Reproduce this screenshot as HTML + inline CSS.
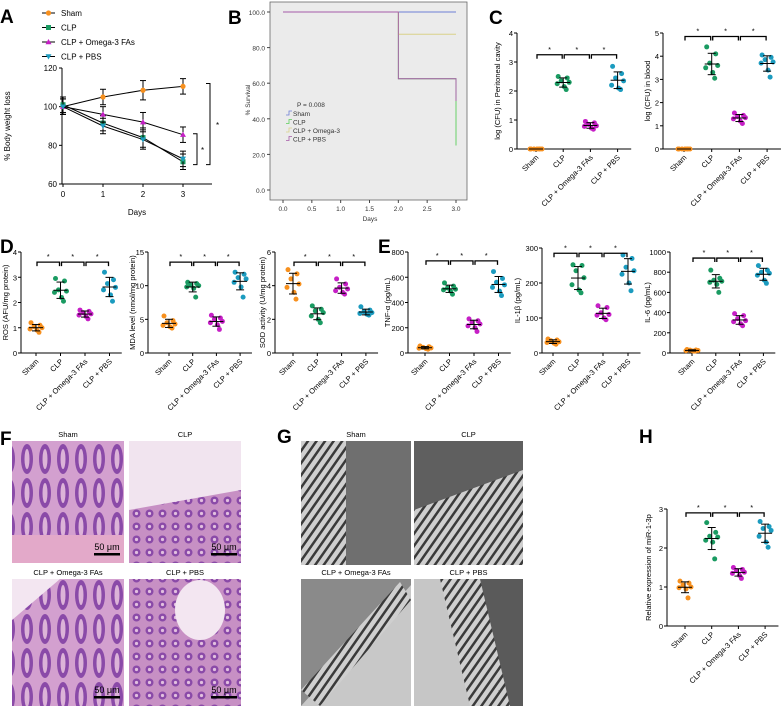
<!DOCTYPE html>
<html><head><meta charset="utf-8"><style>
body{margin:0;background:#fff}
svg{display:block;font-family:"Liberation Sans",Arial,sans-serif}
</style></head><body>
<svg id="fig" width="784" height="707" viewBox="0 0 784 707" xmlns="http://www.w3.org/2000/svg">
<defs>
<pattern id="he" width="18" height="34" patternUnits="userSpaceOnUse"><rect width="18" height="34" fill="#d3a0cf"/><ellipse cx="9" cy="17" rx="6" ry="15" fill="#8a4aa8"/><ellipse cx="9" cy="17" rx="2.5" ry="10" fill="#dcb3d8"/></pattern>
<pattern id="he2" width="13" height="13" patternUnits="userSpaceOnUse"><rect width="13" height="13" fill="#c790c4"/><circle cx="6.5" cy="6.5" r="4" fill="#8a4aa8"/><circle cx="6.5" cy="6.5" r="1.6" fill="#e2c0df"/></pattern>
<pattern id="mv" width="7" height="7" patternUnits="userSpaceOnUse" patternTransform="rotate(35)"><rect width="7" height="7" fill="#cfcfcf"/><rect width="2.5" height="7" fill="#3a3a3a"/></pattern>
</defs>
<g id="root"></g>
</svg>
<script>
// ---- Panel A data ----
const aDays=[0,1,2,3];
const aSham=[100,105,108.5,110.5];
const aCLP=[101,91.5,84,71.5];
const aOmega=[100,96,92,85.5];
const aPBS=[100,90,83,73];
const aErr=[4,4,5,4];
const aTicks=[60,80,100,120];
// ---- Panel B data ----
const bTimes=[0,2,3];
const bSham=[100,100,100];
const bCLP=[100,62.5,25];
const bOmega=[100,87.5,87.5];
const bPBS=[100,62.5,50];
const bYTicks=[0,20,40,60,80,100];
const bXTicks=[0,0.5,1,1.5,2,2.5,3];
// ---- Dot plot data ----
const cats=["Sham","CLP","CLP + Omega-3 FAs","CLP + PBS"];
const c1Sham=[0,0,0,0,0,0,0], c1CLP=[2.5,2.45,2.35,2.3,2.25,2.15,2.05], c1Omega=[0.95,0.9,0.85,0.8,0.78,0.72,0.68], c1PBS=[2.85,2.6,2.45,2.35,2.2,2.1,2.05];
const c2Sham=[0,0,0,0,0,0,0], c2CLP=[4.4,4.1,3.7,3.6,3.5,3.3,3.05], c2Omega=[1.55,1.45,1.4,1.35,1.3,1.2,1.1], c2PBS=[4.05,3.95,3.85,3.75,3.7,3.4,3.1];
const d1Sham=[1.2,1.1,1.05,1.0,0.95,0.9,0.82], d1CLP=[2.95,2.85,2.5,2.45,2.4,2.2,2.05], d1Omega=[1.7,1.65,1.6,1.55,1.5,1.45,1.35], d1PBS=[3.2,2.9,2.75,2.6,2.5,2.3,2.05];
const d2Sham=[5.5,4.8,4.5,4.3,4.1,3.9,3.7], d2CLP=[10.5,10.3,10.1,10,9.8,9.6,8.3], d2Omega=[5.6,5.2,5.0,4.7,4.5,4.2,3.5], d2PBS=[12,11.7,11.2,11,10.5,9.8,8.3];
const d3Sham=[4.95,4.7,4.4,4.1,3.9,3.6,3.2], d3CLP=[2.8,2.6,2.5,2.4,2.2,2.0,1.8], d3Omega=[4.4,4.1,3.9,3.8,3.7,3.6,3.5], d3PBS=[2.75,2.55,2.45,2.4,2.35,2.3,2.25];
const e1Sham=[55,50,45,40,38,35,30], e1CLP=[555,530,515,505,500,490,465], e1Omega=[270,255,240,230,215,200,170], e1PBS=[645,590,560,540,520,490,455];
const e2Sham=[40,37,35,32,30,28,25], e2CLP=[252,250,235,215,195,180,172], e2Omega=[135,130,115,110,108,100,95], e2PBS=[280,270,245,235,225,200,178];
const e3Sham=[35,30,28,25,22,20,18], e3CLP=[820,740,720,710,700,680,600], e3Omega=[390,370,340,320,310,290,270], e3PBS=[865,820,800,790,770,720,690];
const hSham=[1.15,1.1,1.05,1.0,0.98,0.95,0.72], hCLP=[2.65,2.4,2.3,2.28,2.2,2.15,1.72], hOmega=[1.5,1.45,1.42,1.38,1.35,1.3,1.22], hPBS=[2.68,2.55,2.5,2.45,2.3,2.15,2.02];
const c1Ticks=[0,1,2,3,4], c2Ticks=[0,1,2,3,4,5], d1Ticks=[0,1,2,3,4], d2Ticks=[0,5,10,15], d3Ticks=[0,2,4,6], e1Ticks=[0,200,400,600,800], e2Ticks=[0,100,200,300], e3Ticks=[0,200,400,600,800,1000], hTicks=[0,1,2,3];

const NS="http://www.w3.org/2000/svg";
const root=document.getElementById('root');
const COL=["#f7901e","#1a9b62","#c61fc6","#1b9bbf"];
function mk(tag,at,parent){const e=document.createElementNS(NS,tag);for(const k in at)e.setAttribute(k,at[k]);(parent||root).appendChild(e);return e;}
function txt(s,at,parent){const e=mk('text',at,parent);e.textContent=s;return e;}
function line(x1,y1,x2,y2,p,st,w){return mk('line',{x1,y1,x2,y2,stroke:st||'#000','stroke-width':w||1},p);}
function label(s,x,y){const t=txt(s,{x,y,'font-size':19,'font-weight':'bold'});

}

// ---------- Panel A ----------
(function(){
const g=mk('g',{});


const X0=62,XE=212,Y0=184,YT=68;
const xs=d=>63+d*40;
const ys=v=>Y0-(v-60)/60*(Y0-YT);
line(X0,YT,X0,Y0,g);line(X0,Y0,XE,Y0,g);
aTicks.forEach(t=>{line(X0-3,ys(t),X0,ys(t),g);txt(t,{x:X0-5,y:ys(t)+3,'font-size':8,'text-anchor':'end'},g);});
aDays.forEach(d=>{line(xs(d),Y0,xs(d),Y0+3,g);txt(d,{x:xs(d),y:Y0+13,'font-size':8,'text-anchor':'middle'},g);});
const yl=txt('% Body weight loss',{x:0,y:0,'font-size':8,transform:`translate(10,${(Y0+YT)/2}) rotate(-90)`,'text-anchor':'middle'},g);


txt('Days',{x:137,y:215,'font-size':8,'text-anchor':'middle'},g);
const series=[["Sham",aSham,'circle'],["CLP",aCLP,'square'],["CLP + Omega-3 FAs",aOmega,'tri'],["CLP + PBS",aPBS,'itri']];
series.forEach((s,i)=>{
 const sg=mk('g',{},g);
 
 
 mk('polyline',{points:s[1].map((v,j)=>xs(aDays[j])+','+ys(v)).join(' '),fill:'none',stroke:'#000','stroke-width':1},sg);
 s[1].forEach((v,j)=>{const x=xs(aDays[j]);
  line(x,ys(v+aErr[j]),x,ys(v-aErr[j]),sg);line(x-3,ys(v+aErr[j]),x+3,ys(v+aErr[j]),sg);line(x-3,ys(v-aErr[j]),x+3,ys(v-aErr[j]),sg);
  marker(s[2],x,ys(v),COL[i],sg);});
 const ly=13+i*14.5;
 const lg=mk('g',{},g);
 
 
 line(42,ly,55,ly,lg);marker(s[2],48.5,ly,COL[i],lg);
 txt(s[0],{x:61,y:ly+3,'font-size':8},lg);
});
const bk=(x,v1,v2,sx)=>{mk('polyline',{points:`${x-4},${ys(v1)} ${x},${ys(v1)} ${x},${ys(v2)} ${x-4},${ys(v2)}`,fill:'none',stroke:'#000','stroke-width':1},g);
 txt('*',{x:sx,y:(ys(v1)+ys(v2))/2+4,'font-size':8},g);};
bk(210,112,70,216);bk(197,86,70,201);
})();
function marker(type,x,y,c,p){
 if(type==='circle')return mk('circle',{cx:x,cy:y,r:2.6,fill:c},p);
 if(type==='square')return mk('rect',{x:x-2.5,y:y-2.5,width:5,height:5,fill:c},p);
 if(type==='tri')return mk('polygon',{points:`${x},${y-3} ${x-3},${y+2.2} ${x+3},${y+2.2}`,fill:c},p);
 return mk('polygon',{points:`${x},${y+3} ${x-3},${y-2.2} ${x+3},${y-2.2}`,fill:c},p);
}

// ---------- Panel B ----------
(function(){
const g=mk('g',{});


mk('rect',{x:270,y:2,width:197,height:198,fill:'#ebebeb',stroke:'#666','stroke-width':0.8},g);
const xs=t=>283+t/3*(456-283);
const ys=v=>190-v/100*178;
bYTicks.forEach(t=>{line(267,ys(t),270,ys(t),g,'#444');txt(t.toFixed(1),{x:265,y:ys(t)+3,'font-size':6.5,'text-anchor':'end',fill:'#333'},g);});
bXTicks.forEach(t=>{line(xs(t),200,xs(t),203,g,'#444');txt(t.toFixed(1),{x:xs(t),y:211,'font-size':6.5,'text-anchor':'middle',fill:'#333'},g);});
txt('Days',{x:370,y:221,'font-size':6.5,'text-anchor':'middle',fill:'#333'},g);
txt('% Survival',{x:0,y:0,'font-size':6.5,fill:'#333','text-anchor':'middle',transform:'translate(250,100) rotate(-90)'},g);
const sc=["#6e7fd6","#5ccf5c","#d9d28a","#a65ba8"];
const ser=[["Sham",bSham],["CLP",bCLP],["CLP + Omega-3",bOmega],["CLP + PBS",bPBS]];
ser.forEach((s,i)=>{
 let pts=[];for(let j=0;j<bTimes.length;j++){if(j>0)pts.push(xs(bTimes[j])+','+ys(s[1][j-1]));pts.push(xs(bTimes[j])+','+ys(s[1][j]));}
 const pl=mk('polyline',{points:pts.join(' '),fill:'none',stroke:sc[i],'stroke-width':0.9},g);
 
 
 const ly=114+i*8.5;
 mk('polyline',{points:`286,${ly+1} 289,${ly+1} 289,${ly-3} 292,${ly-3}`,fill:'none',stroke:sc[i],'stroke-width':0.8},g);
 txt(s[0],{x:293,y:ly+2,'font-size':6.5,fill:'#333'},g);
});
txt('P = 0.008',{x:297,y:107,'font-size':6.5,fill:'#333'},g);
})();

// ---------- Dot plots ----------
const jit=[-5,4,-2,6,-6,1,3];
function dotplot(name,ax,yTop,yBot,ymax,ticks,x0,step,groups,bracketV,ylabel,lx){
 const g=mk('g',{});
 
 
 const ys=v=>yBot-v/ymax*(yBot-yTop);
 const xs=i=>x0+i*step;
 const xe=xs(3)+step*0.5;
 line(ax,yTop,ax,yBot,g);line(ax,yBot,xe,yBot,g);
 ticks.forEach(t=>{line(ax-3,ys(t),ax,ys(t),g);txt(t,{x:ax-4,y:ys(t)+3,'font-size':7.5,'text-anchor':'end'},g);});
 txt(ylabel,{x:0,y:0,'font-size':7.5,'text-anchor':'middle',transform:`translate(${lx},${(yTop+yBot)/2}) rotate(-90)`},g);
 cats.forEach((c,i)=>{line(xs(i),yBot,xs(i),yBot+3,g);
  txt(c,{x:0,y:0,'font-size':7.5,'text-anchor':'end',transform:`translate(${xs(i)+3},${yBot+9}) rotate(-45)`},g);});
 groups.forEach((arr,i)=>{
  const gg=mk('g',{},g);
  
  
  arr.forEach((v,j)=>{const dt=mk('circle',{cx:xs(i)+jit[j],cy:ys(v),r:2.5,fill:COL[i]},gg);
   
   });
  const m=arr.reduce((a,b)=>a+b,0)/arr.length;
  const sd=Math.sqrt(arr.reduce((a,b)=>a+(b-m)*(b-m),0)/(arr.length-1));
  line(xs(i)-7,ys(m),xs(i)+7,ys(m),gg);
  line(xs(i),ys(m-sd),xs(i),ys(m+sd),gg);
  line(xs(i)-4,ys(m+sd),xs(i)+4,ys(m+sd),gg);line(xs(i)-4,ys(m-sd),xs(i)+4,ys(m-sd),gg);
 });
 for(let i=0;i<3;i++){const yb=ys(bracketV);
  mk('polyline',{points:`${xs(i)+1},${yb+4} ${xs(i)+1},${yb} ${xs(i+1)-1},${yb} ${xs(i+1)-1},${yb+4}`,fill:'none',stroke:'#000','stroke-width':1.3},g);
  txt('*',{x:(xs(i)+xs(i+1))/2,y:yb-3,'font-size':7.5,'text-anchor':'middle'},g);}
}
dotplot('panel-c-peritoneal-chart',517,33,149,4,c1Ticks,536,27.2,[c1Sham,c1CLP,c1Omega,c1PBS],3.25,'log (CFU) in Peritoneal cavity',500);
dotplot('panel-c-blood-chart',663,33,149,5,c2Ticks,684,27.7,[c2Sham,c2CLP,c2Omega,c2PBS],4.85,'log (CFU) in blood',650);
dotplot('panel-d-ros-chart',21,252,353,4,d1Ticks,36,24.5,[d1Sham,d1CLP,d1Omega,d1PBS],3.6,'ROS (AFU/mg protein)',8);
dotplot('panel-d-mda-chart',148,252,353,15,d2Ticks,169,23.7,[d2Sham,d2CLP,d2Omega,d2PBS],13.5,'MDA level (nmol/mg protein)',135);
dotplot('panel-d-sod-chart',275,252,353,6,d3Ticks,293,24.3,[d3Sham,d3CLP,d3Omega,d3PBS],5.4,'SOD activity (U/mg protein)',265);
dotplot('panel-e-tnf-chart',408,252,353,800,e1Ticks,425,24.5,[e1Sham,e1CLP,e1Omega,e1PBS],730,'TNF-α (pg/mL)',390);
dotplot('panel-e-il1b-chart',542,248,353,300,e2Ticks,553,25,[e2Sham,e2CLP,e2Omega,e2PBS],285,'IL-1β (pg/mL)',520);
dotplot('panel-e-il6-chart',670,252,353,1000,e3Ticks,692,23.8,[e3Sham,e3CLP,e3Omega,e3PBS],940,'IL-6 (pg/mL)',650);
dotplot('panel-h-mir-chart',667,509,626,3,hTicks,685,26.7,[hSham,hCLP,hOmega,hPBS],2.9,'Relative expression of miR-1-3p',651);

label('A',0,23);label('B',228,24);label('C',489,24);label('D',0,253);label('E',378,253);
label('F',0,445);label('G',277,443);label('H',639,443);

// ---------- Images F and G ----------
function img(name,x,y,w,h,fill,title){
 const g=mk('g',{});
 
 
 mk('rect',{x,y,width:w,height:h,fill},g);
 if(title)txt(title,{x:x+w/2,y:y-4,'font-size':7.5,'text-anchor':'middle'},g);
 return g;
}
function bar(g,x,y){mk('rect',{x:x-13,y:y,width:26,height:2.5,fill:'#000'},g);txt('50 μm',{x:x,y:y-3,'font-size':9,'text-anchor':'middle'},g);}
const hs=img('he-sham',12,441,112,122,'url(#he)','Sham');mk('rect',{x:12,y:535,width:112,height:28,fill:'#e3a9c9'},hs);bar(hs,107,553);
const hc=img('he-clp',129,441,112,122,'url(#he2)','CLP');mk('polygon',{points:'129,441 241,441 241,490 129,510',fill:'#f1e4ef'},hc);bar(hc,224,553);
const ho=img('he-omega3',12,579,112,127,'url(#he)','CLP + Omega-3 FAs');mk('polygon',{points:'12,579 60,579 12,620',fill:'#f3e6f1'},ho);bar(ho,107,696);
const hp=img('he-pbs',129,579,112,127,'url(#he2)','CLP + PBS');mk('ellipse',{cx:200,cy:610,rx:25,ry:30,fill:'#f3e6f1'},hp);bar(hp,224,696);
const gS=img('tem-sham',301,441,110,124,'#6f6f6f','Sham');mk('rect',{x:301,y:441,width:45,height:124,fill:'url(#mv)'},gS);
const gC=img('tem-clp',414,441,109,124,'#5f5f5f','CLP');mk('polygon',{points:'414,510 523,470 523,565 414,565',fill:'url(#mv)'},gC);
const gO=img('tem-omega3',301,579,110,127,'#8a8a8a','CLP + Omega-3 FAs');mk('polygon',{points:'301,706 411,585 411,706',fill:'#c8c8c8'},gO);mk('polygon',{points:'301,690 400,582 411,600 320,706',fill:'url(#mv)'},gO);
const gP=img('tem-pbs',414,579,109,127,'#c6c6c6','CLP + PBS');mk('polygon',{points:'470,579 523,579 523,706 500,706',fill:'#5a5a5a'},gP);mk('polygon',{points:'440,579 480,579 510,706 470,706',fill:'url(#mv)'},gP);
</script>
</body></html>
